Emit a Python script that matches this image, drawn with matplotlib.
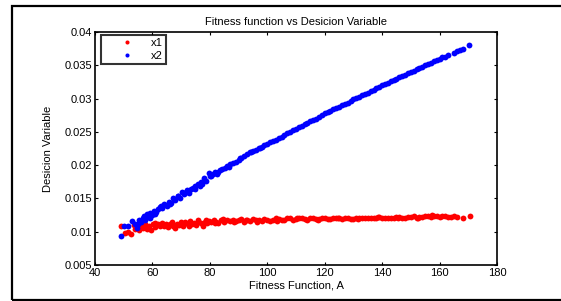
import matplotlib
matplotlib.use("Agg")
import matplotlib.pyplot as plt
from matplotlib.patches import Rectangle

plt.rcParams['font.family'] = ['Liberation Sans', 'DejaVu Sans']

# fitness values (x) and decision variable x2
x2_fit = [49.0, 50.2, 51.5, 53.0, 53.8, 54.5, 55.3, 56.0, 56.8, 57.4, 58.0, 58.6, 59.3,
          60.0, 60.6, 61.3, 62.0, 62.8, 63.5, 64.2, 65.0, 65.7, 66.4, 67.2, 68.0, 68.8,
          69.5, 70.3, 71.0, 71.8, 72.6, 73.4, 74.2, 75.0, 75.8, 76.5, 77.3, 78.0, 78.8,
          79.6, 80.3, 81.0, 81.8, 82.6, 83.5, 84.3, 85.2, 86.0, 87.0, 88.0, 89.0, 90.0,
          91.0, 92.0, 93.0, 94.0, 95.0, 96.0, 97.0, 98.0, 99.0, 100.0, 101.0, 102.0,
          103.0, 104.0, 105.0, 106.0, 107.0, 108.0, 109.0, 110.0, 111.0, 112.0, 113.0,
          114.0, 115.0, 116.0, 117.0, 118.0, 119.0, 120.0, 121.0, 122.0, 123.0, 124.0,
          125.0, 126.0, 127.0, 128.0, 129.0, 130.0, 131.0, 132.0, 133.0, 134.0, 135.0,
          136.0, 137.0, 138.0, 139.0, 140.0, 141.0, 142.0, 143.0, 144.0, 145.0, 146.0,
          147.0, 148.0, 149.0, 150.0, 151.0, 152.0, 153.0, 154.0, 155.0, 156.0, 157.0,
          158.0, 159.0, 160.0, 161.0, 162.0, 163.0, 165.0, 166.0, 167.0, 168.0, 170.3,
          # extra scatter in the lower part of the band
          55.0, 57.0, 59.0, 61.0, 63.0, 66.0, 69.0, 72.0, 74.8, 77.0, 80.0, 83.0,
          86.5, 90.5, 94.5, 97.5]
x2_val = [0.0093, 0.0108, 0.0109, 0.0116, 0.0112, 0.0105, 0.0117, 0.0114, 0.0121, 0.0118,
          0.0126, 0.0122, 0.0128, 0.0125, 0.0131, 0.0129, 0.0134, 0.0137, 0.0135, 0.0141,
          0.0139, 0.0145, 0.0143, 0.0150, 0.0148, 0.0153, 0.0151, 0.0160, 0.0157, 0.0160,
          0.0158, 0.0164, 0.0166, 0.0164, 0.0172, 0.0169, 0.0172, 0.0180, 0.0176, 0.0188,
          0.0183, 0.0186, 0.0189, 0.0187, 0.0192, 0.0194, 0.0196, 0.0199, 0.0201, 0.0203,
          0.0205, 0.0208, 0.0211, 0.0214, 0.0216, 0.0219, 0.0221, 0.0223, 0.0225, 0.0227,
          0.0230, 0.0232, 0.0235, 0.0237, 0.0238, 0.0241, 0.0243, 0.0245, 0.0248, 0.0250,
          0.0253, 0.0255, 0.0257, 0.0259, 0.0262, 0.0264, 0.0266, 0.0268, 0.0270, 0.0273,
          0.0275, 0.0278, 0.0280, 0.0282, 0.0284, 0.0286, 0.0288, 0.0290, 0.0292, 0.0294,
          0.0297, 0.0299, 0.0301, 0.0303, 0.0305, 0.0307, 0.0309, 0.0311, 0.0313, 0.0316,
          0.0318, 0.0320, 0.0322, 0.0324, 0.0326, 0.0328, 0.0330, 0.0332, 0.0334, 0.0336,
          0.0338, 0.0340, 0.0342, 0.0344, 0.0346, 0.0348, 0.0350, 0.0352, 0.0354, 0.0356,
          0.0358, 0.0360, 0.0362, 0.0363, 0.0365, 0.0369, 0.0371, 0.0373, 0.0375, 0.0380,
          0.0112, 0.0124, 0.0121, 0.0126, 0.0138, 0.0141, 0.0154, 0.0162, 0.0169, 0.0175,
          0.0184, 0.0190, 0.0197, 0.0210, 0.0219, 0.0226]

# fitness values (x) and decision variable x1
x1_fit = [49.0, 50.4, 51.5, 52.5, 53.5, 54.0, 54.8, 55.5, 56.0, 56.8, 57.5, 58.2, 58.8,
          59.5, 60.2, 61.0, 61.8, 62.5, 63.3, 64.0, 64.8, 65.5, 66.3, 67.0, 67.8, 68.5,
          69.3, 70.0, 70.8, 71.5, 72.3, 73.0, 73.8, 74.5, 75.3, 76.0, 76.8, 77.5, 78.3,
          79.0, 79.8, 80.5, 81.3, 82.0, 83.0, 84.0, 85.0, 86.0, 87.0, 88.0, 89.0, 90.0,
          91.0, 92.0, 93.0, 94.0, 95.0, 96.0, 97.0, 98.0, 99.0, 100.0, 101.0, 102.0,
          103.0, 104.0, 105.0, 106.0, 107.0, 108.0, 109.0, 110.0, 111.0, 112.0, 113.0,
          114.0, 115.0, 116.0, 117.0, 118.0, 119.0, 120.0, 121.0, 122.0, 123.0, 124.0,
          125.0, 126.0, 127.0, 128.0, 129.0, 130.0, 131.0, 132.0, 133.0, 134.0, 135.0,
          136.0, 137.0, 138.0, 139.0, 140.0, 141.0, 142.0, 143.0, 144.0, 145.0, 146.0,
          147.0, 148.0, 149.0, 150.0, 151.0, 152.0, 153.0, 154.0, 155.0, 156.0, 157.0,
          158.0, 159.0, 160.0, 161.0, 162.0, 163.0, 164.0, 165.0, 166.0, 168.0, 170.5,
          # extra scatter around the band
          57.0, 60.8, 63.8, 66.8, 69.8, 72.8, 75.8, 78.8, 81.8, 84.5, 88.5, 92.5,
          96.5, 103.5, 110.5, 117.5, 124.5, 131.5, 138.5, 145.5, 152.5, 157.5]
x1_val = [0.0109, 0.0098, 0.0099, 0.0097, 0.0110, 0.0104, 0.0108, 0.0103, 0.0110, 0.0106,
          0.0112, 0.0104, 0.0109, 0.0102, 0.0111, 0.0107, 0.0112, 0.0109, 0.0113, 0.0108,
          0.0111, 0.0107, 0.0112, 0.0109, 0.0106, 0.0112, 0.0110, 0.0114, 0.0109, 0.0115,
          0.0112, 0.0116, 0.0111, 0.0113, 0.0110, 0.0117, 0.0113, 0.0109, 0.0115, 0.0113,
          0.0116, 0.0114, 0.0117, 0.0115, 0.0113, 0.0117, 0.0115, 0.0117, 0.0116, 0.0118,
          0.0116, 0.0117, 0.0119, 0.0115, 0.0118, 0.0116, 0.0119, 0.0117, 0.0118, 0.0116,
          0.0119, 0.0118, 0.0116, 0.0117, 0.0120, 0.0119, 0.0117, 0.0118, 0.0120, 0.0120,
          0.0118, 0.0119, 0.0121, 0.0120, 0.0119, 0.0118, 0.0120, 0.0121, 0.0119, 0.0119,
          0.0121, 0.0120, 0.0119, 0.0119, 0.0121, 0.0120, 0.0120, 0.0119, 0.0121, 0.0120,
          0.0119, 0.0119, 0.0120, 0.0121, 0.0120, 0.0120, 0.0121, 0.0121, 0.0120, 0.0120,
          0.0122, 0.0121, 0.0120, 0.0120, 0.0121, 0.0121, 0.0122, 0.0122, 0.0121, 0.0121,
          0.0122, 0.0122, 0.0123, 0.0121, 0.0122, 0.0122, 0.0123, 0.0123, 0.0122, 0.0124,
          0.0123, 0.0122, 0.0123, 0.0123, 0.0122, 0.0122, 0.0123, 0.0122, 0.0121, 0.0123,
          0.0107, 0.0113, 0.0111, 0.0114, 0.0112, 0.0109, 0.0114, 0.0118, 0.0113, 0.0119,
          0.0114, 0.0117, 0.0115, 0.0116, 0.0121, 0.0118, 0.0121, 0.0119, 0.0122, 0.0120,
          0.0121, 0.0125]

x_ticks = [40, 60, 80, 100, 120, 140, 160, 180]
y_ticks = [0.005, 0.01, 0.015, 0.02, 0.025, 0.03, 0.035, 0.04]
y_tick_labels = ['0.005', '0.01', '0.015', '0.02', '0.025', '0.03', '0.035', '0.04']

fig = plt.figure(figsize=(5.61, 3.01), dpi=100)
ax = fig.add_axes([0.1693, 0.1196, 0.7166, 0.7741])

ax.plot(x1_fit, x1_val, 'o', color='#ff0000', markersize=4.2, markeredgewidth=0, label='x1')
ax.plot(x2_fit, x2_val, 'o', color='#0000ff', markersize=4.2, markeredgewidth=0, label='x2')

ax.set_xlim(40, 180)
ax.set_ylim(0.005, 0.04)
ax.set_xticks(x_ticks)
ax.set_yticks(y_ticks)
ax.set_yticklabels(y_tick_labels)
ax.tick_params(direction='in', top=True, right=True, length=2.5, width=0.8,
               labelsize=8, pad=2)
for sp in ax.spines.values():
    sp.set_linewidth(1.2)

ax.set_title('Fitness function vs Desicion Variable', fontsize=8, pad=5)
ax.set_xlabel('Fitness Function, A', fontsize=8, labelpad=2)
ax.set_ylabel('Desicion Variable', fontsize=8, labelpad=8)

leg = ax.legend(loc='upper left', bbox_to_anchor=(0.015, 0.988), borderaxespad=0,
                fontsize=8, fancybox=False, handlelength=4.0, handletextpad=0.2,
                labelspacing=0.25, borderpad=0.3, markerscale=0.7)
leg.get_frame().set_edgecolor('black')
leg.get_frame().set_linewidth(1.5)

# outer frame around the figure
fig.patches.append(Rectangle((0.0214, 0.003), 1.2, 0.977, transform=fig.transFigure,
                             fill=False, edgecolor='black', linewidth=1.6))

fig.savefig('out.png', dpi=100)
